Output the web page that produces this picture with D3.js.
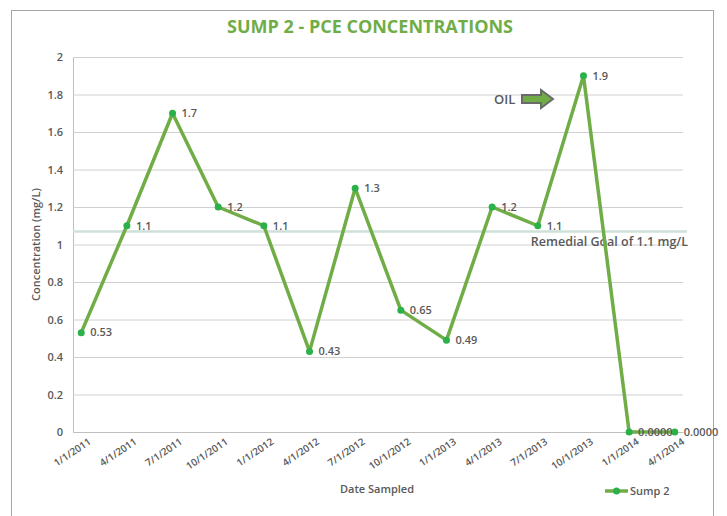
<!DOCTYPE html>
<html>
<head>
<meta charset="utf-8">
<script src="https://cdn.jsdelivr.net/npm/d3@7"></script>
<style>
  body { margin: 0; background: #fff; }
  text { font-family: "Open Sans", "Liberation Sans", sans-serif; }
</style>
</head>
<body>
<div id="chart"></div>
<script>
let dates = ["1/1/2011", "4/1/2011", "7/1/2011", "10/1/2011", "1/1/2012", "4/1/2012", "7/1/2012",
  "10/1/2012", "1/1/2013", "4/1/2013", "7/1/2013", "10/1/2013", "1/1/2014", "4/1/2014"];
let sump2 = [0.53, 1.1, 1.7, 1.2, 1.1, 0.43, 1.3, 0.65, 0.49, 1.2, 1.1, 1.9, 0, 0];
let pointLabels = ["0.53", "1.1", "1.7", "1.2", "1.1", "0.43", "1.3", "0.65", "0.49", "1.2", "1.1", "1.9", "0.0000", "0.0000"];
let yTicks = [0, 0.2, 0.4, 0.6, 0.8, 1, 1.2, 1.4, 1.6, 1.8, 2];
let goalValue = 1.07;

let width = 727;
let height = 516;
let margin = { top: 57, right: 44, bottom: 84, left: 73 };

let lineColor = "#70ad47";
let dotColor = "#2bb04a";
let textColor = "#595959";

const svg = d3
  .select("#chart")
  .append("svg")
  .attr("width", width)
  .attr("height", height);

// outer frame
svg
  .append("rect")
  .attr("x", 11.5)
  .attr("y", 10.5)
  .attr("width", 702)
  .attr("height", 520)
  .attr("fill", "none")
  .attr("stroke", "#a6a6a6")
  .attr("stroke-width", 1);

const xScale = d3
  .scalePoint()
  .domain(dates)
  .range([margin.left, width - margin.right])
  .padding(0.18);

const yScale = d3
  .scaleLinear()
  .domain([0, 2])
  .range([height - margin.bottom, margin.top]);

// gridlines
const yAxisGrid = d3
  .axisLeft(yScale)
  .tickValues(yTicks)
  .tickSize(-(width - margin.left - margin.right))
  .tickFormat(d3.format("~g"))
  .tickPadding(10);

const yAxisG = svg
  .append("g")
  .attr("class", "y grid")
  .attr("transform", `translate(${margin.left},0)`)
  .call(yAxisGrid);
yAxisG.select(".domain").attr("stroke", "#bfbfbf");
yAxisG.selectAll(".tick line").attr("stroke", "#d0d0d0");
yAxisG
  .selectAll(".tick text")
  .attr("fill", textColor)
  .attr("font-size", 11)
  .attr("font-weight", 600);

const xAxis = d3.axisBottom(xScale).tickSize(0).tickPadding(6);
const xAxisG = svg
  .append("g")
  .attr("transform", `translate(0,${height - margin.bottom})`)
  .call(xAxis);
xAxisG.select(".domain").attr("stroke", "#bfbfbf");
xAxisG
  .selectAll(".tick text")
  .attr("fill", textColor)
  .attr("font-size", 10)
  .attr("font-weight", 600)
  .attr("text-anchor", "end")
  .attr("dx", "0.2em")
  .attr("dy", "0.9em")
  .attr("transform", "rotate(-34)");

// remedial goal line
svg
  .append("line")
  .attr("x1", margin.left)
  .attr("x2", width - margin.right + 4)
  .attr("y1", yScale(goalValue))
  .attr("y2", yScale(goalValue))
  .attr("stroke", "#cfe0d9")
  .attr("stroke-width", 2.5);

svg
  .append("text")
  .attr("x", width - margin.right + 5)
  .attr("y", yScale(goalValue) + 15)
  .attr("text-anchor", "end")
  .attr("fill", textColor)
  .attr("font-family", "Lato, sans-serif")
  .attr("font-size", 12.5)
  .attr("font-weight", 600)
  .text("Remedial Goal of 1.1 mg/L");

// data line
const line = d3
  .line()
  .x((d, i) => xScale(dates[i]))
  .y((d) => yScale(d));

svg
  .append("path")
  .datum(sump2)
  .attr("fill", "none")
  .attr("stroke", lineColor)
  .attr("stroke-width", 3.5)
  .attr("stroke-linejoin", "round")
  .attr("d", line);

svg
  .selectAll(".dot")
  .data(sump2)
  .enter()
  .append("circle")
  .attr("class", "dot")
  .attr("cx", (d, i) => xScale(dates[i]))
  .attr("cy", (d) => yScale(d))
  .attr("r", 3.5)
  .attr("fill", dotColor);

svg
  .selectAll(".label")
  .data(sump2)
  .enter()
  .append("text")
  .attr("class", "label")
  .attr("x", (d, i) => xScale(dates[i]) + 9)
  .attr("y", (d) => yScale(d))
  .attr("dy", "0.35em")
  .attr("fill", textColor)
  .attr("font-size", 11)
  .attr("font-weight", 600)
  .text((d, i) => pointLabels[i]);

// title
svg
  .append("text")
  .attr("x", 370)
  .attr("y", 33)
  .attr("text-anchor", "middle")
  .attr("fill", lineColor)
  .attr("font-family", "Lato, sans-serif")
  .attr("font-size", 18)
  .attr("font-weight", 700)
  .text("SUMP 2 - PCE CONCENTRATIONS");

// axis titles
svg
  .append("text")
  .attr("text-anchor", "middle")
  .attr("transform", `translate(40,${(margin.top + height - margin.bottom) / 2}) rotate(-90)`)
  .attr("fill", textColor)
  .attr("font-size", 11)
  .attr("font-weight", 600)
  .text("Concentration (mg/L)");

svg
  .append("text")
  .attr("text-anchor", "middle")
  .attr("x", 377)
  .attr("y", 493)
  .attr("fill", textColor)
  .attr("font-size", 11)
  .attr("font-weight", 600)
  .text("Date Sampled");

// OIL annotation
svg
  .append("text")
  .attr("x", 494)
  .attr("y", 104)
  .attr("fill", textColor)
  .attr("font-family", "Lato, sans-serif")
  .attr("font-size", 13)
  .attr("font-weight", 600)
  .text("OIL");

const ax = 522, ay = 99;
svg
  .append("path")
  .attr("d", `M${ax},${ay - 4} H${ax + 19} V${ay - 9} L${ax + 31},${ay} L${ax + 19},${ay + 9} V${ay + 4} H${ax} Z`)
  .attr("fill", lineColor)
  .attr("stroke", "#6b6b6b")
  .attr("stroke-width", 2);

// legend
const legend = svg.append("g").attr("transform", "translate(605,491)");
legend
  .append("line")
  .attr("x1", 0)
  .attr("x2", 23)
  .attr("stroke", lineColor)
  .attr("stroke-width", 3.5);
legend
  .append("circle")
  .attr("cx", 11.5)
  .attr("r", 3.5)
  .attr("fill", dotColor);
legend
  .append("text")
  .attr("x", 25)
  .attr("dy", "0.35em")
  .attr("fill", textColor)
  .attr("font-size", 11)
  .attr("font-weight", 600)
  .text("Sump 2");
</script>
</body>
</html>
